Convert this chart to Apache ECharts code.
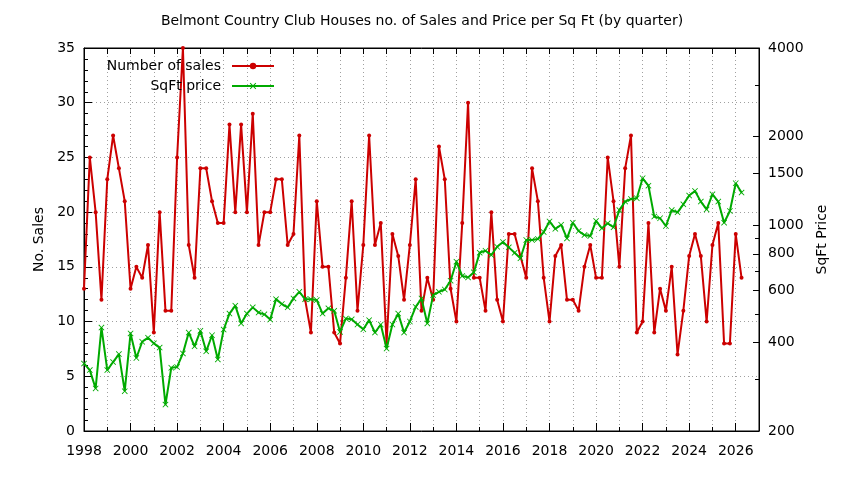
<!DOCTYPE html>
<html><head><meta charset="utf-8">
<script src="https://cdn.jsdelivr.net/npm/echarts@6/dist/echarts.min.js"></script>
<style>html,body{margin:0;padding:0;background:#fff}#c{width:844px;height:480px}</style>
</head><body><div id="c"></div>
<script>
const titleText = 'Belmont Country Club Houses no. of Sales and Price per Sq Ft (by quarter)';
const salesName = 'Number of sales';
const priceName = 'SqFt price';
const startYear = 1998;
const endYear = 2027;
// quarterly number of sales, starting 1998 Q1
const sales = [13,25,20,12,23,27,24,21,13,15,
  14,17,9,20,11,11,25,35,17,14,
  24,24,21,19,19,28,20,28,20,29,
  17,20,20,23,23,17,18,27,12,9,
  21,15,15,9,8,14,21,11,17,27,
  17,19,8,18,16,12,17,23,11,14,
  12,26,23,13,10,19,30,14,14,11,
  20,12,10,18,18,16,14,24,21,14,
  10,16,17,12,12,11,15,17,14,14,
  25,21,15,24,27,9,10,19,9,13,
  11,15,7,11,16,18,16,10,17,19,
  8,8,18,14];
// quarterly price per sq ft, starting 1998 Q1
const price = [339,322,279,449,322,343,365,273,429,354,
  402,415,397,384,246,328,330,367,432,388,
  438,373,423,350,442,501,533,464,501,526,
  505,498,478,561,540,526,564,594,561,560,
  557,501,522,512,434,482,479,460,443,476,
  432,460,381,460,501,432,471,528,564,464,
  579,594,605,648,752,672,665,692,807,819,
  792,845,877,841,806,772,891,891,898,948,
  1030,972,1004,902,1020,956,926,919,1034,976,
  1015,984,1126,1203,1228,1235,1444,1363,1070,1056,
  994,1126,1106,1178,1261,1308,1203,1132,1274,1203,
  1020,1118,1389,1291];
const salesTicks = [0,5,10,15,20,25,30,35];
const priceTicks = [200,400,600,800,1000,1500,2000,4000];
const priceMinorTicks = [300,500,700,900,3000];

const font = 'DejaVu Sans';
const toXY = arr => arr.map((v, i) => [startYear + i / 4, v]);
const xSymbol = 'path://M0,1L1,0L5,4L9,0L10,1L6,5L10,9L9,10L5,6L1,10L0,9L4,5Z';
const gridLine = {show: true, lineStyle: {color: '#a0a0a0', type: [1, 3], width: 1}};
const blackLine = {show: true, lineStyle: {color: '#000', width: 1}};

const chart = echarts.init(document.getElementById('c'), null, {renderer: 'canvas'});
chart.setOption({
  animation: false,
  backgroundColor: '#fff',
  textStyle: {fontFamily: font},
  title: {text: titleText, left: 'center', top: 9,
    textStyle: {fontFamily: font, fontSize: 14, fontWeight: 'normal', color: '#000'}},
  legend: [
    {data: [salesName], right: 564, top: 54, align: 'right', orient: 'vertical',
      itemWidth: 42, itemHeight: 8,
      textStyle: {fontFamily: font, fontSize: 14, color: '#000', padding: [0, 6, 0, 0]}},
    {data: [priceName], right: 564, top: 74, align: 'right', orient: 'vertical',
      itemWidth: 42, itemHeight: 8,
      textStyle: {fontFamily: font, fontSize: 14, color: '#000', padding: [0, 6, 0, 0]}}
  ],
  grid: {left: 84, right: 85, top: 48, bottom: 49, show: true, borderColor: '#000', borderWidth: 1, containLabel: false},
  xAxis: [
    {type: 'value', min: startYear, max: endYear, interval: 1, position: 'bottom',
      axisLine: blackLine, axisTick: {inside: true, length: 4, lineStyle: {color: '#000'}},
      axisLabel: {fontFamily: font, fontSize: 14, color: '#000', margin: 13,
        formatter: v => (v % 2 === 0 && v < endYear) ? String(v) : ''},
      splitLine: gridLine},
    {type: 'value', min: startYear, max: endYear, interval: 2, position: 'bottom',
      axisLine: {show: false}, axisTick: {inside: true, length: 8, lineStyle: {color: '#000'}},
      axisLabel: {show: false}, splitLine: {show: false}},
    {type: 'value', min: startYear, max: endYear, interval: 1, position: 'top',
      axisLine: blackLine, axisTick: {inside: true, length: 6, lineStyle: {color: '#000'}},
      axisLabel: {show: false}, splitLine: {show: false}}
  ],
  yAxis: [
    {type: 'value', min: 0, max: 35, interval: 5, position: 'left',
      name: 'No. Sales', nameLocation: 'middle', nameGap: 29, nameRotate: 90,
      nameTextStyle: {fontFamily: font, fontSize: 14, color: '#000'},
      axisLine: blackLine,
      axisTick: {inside: true, length: 8, lineStyle: {color: '#000'}},
      minorTick: {show: true, splitNumber: 5, length: 4, lineStyle: {color: '#000'}},
      axisLabel: {fontFamily: font, fontSize: 14, color: '#000', margin: 9, customValues: salesTicks},
      splitLine: gridLine},
    {type: 'log', min: 200, max: 4000, position: 'right',
      name: 'SqFt Price', nameLocation: 'middle', nameGap: 56, nameRotate: 90,
      nameTextStyle: {fontFamily: font, fontSize: 14, color: '#000'},
      axisLine: blackLine,
      axisTick: {inside: true, length: 6, customValues: priceTicks, lineStyle: {color: '#000'}},
      axisLabel: {fontFamily: font, fontSize: 14, color: '#000', margin: 9, customValues: priceTicks,
        formatter: v => String(Math.round(v))},
      splitLine: {show: false}, minorTick: {show: false}},
    {type: 'log', min: 200, max: 4000, position: 'right',
      axisLine: {show: false},
      axisTick: {inside: true, length: 4, customValues: priceMinorTicks, lineStyle: {color: '#000'}},
      axisLabel: {show: false}, splitLine: {show: false}}
  ],
  series: [
    {name: salesName, type: 'line', xAxisIndex: 0, yAxisIndex: 0, data: toXY(sales),
      color: '#cc0000', symbol: 'circle', symbolSize: 4, showAllSymbol: true,
      lineStyle: {width: 2, color: '#cc0000'}, itemStyle: {color: '#cc0000'}, z: 3},
    {name: priceName, type: 'line', xAxisIndex: 0, yAxisIndex: 1, data: toXY(price),
      color: '#00aa00', symbol: xSymbol, symbolSize: 6, showAllSymbol: true,
      lineStyle: {width: 2, color: '#00aa00'}, itemStyle: {color: '#00aa00'}, z: 4}
  ]
});
</script></body></html>
